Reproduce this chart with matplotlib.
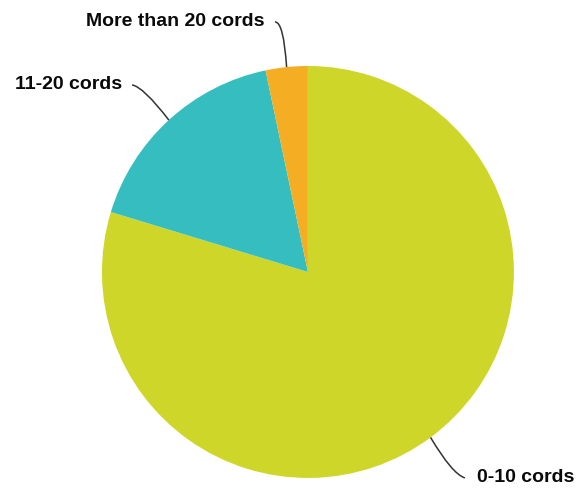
import matplotlib.pyplot as plt
import numpy as np
from matplotlib.path import Path
from matplotlib.patches import PathPatch

# Share of items by number of cords
labels = ["0-10 cords", "11-20 cords", "More than 20 cords"]
values = [79.7, 17.0, 3.3]
colors = ["#CFD62A", "#35BDBF", "#F5AE23"]

fig = plt.figure(figsize=(5.79, 4.91), dpi=100)
ax = fig.add_axes([0, 0, 1, 1])

wedges, _ = ax.pie(values, colors=colors, startangle=90, counterclock=False,
                   radius=1.0, wedgeprops=dict(linewidth=0))

# pie() resets the view, so fix the limits afterwards
ax.set_xlim(-1.495, 1.316)
ax.set_ylim(-1.063, 1.320)
ax.set_aspect("equal")
ax.axis("off")

# Label connectors: (control point, end point, text alignment)
label_pos = {
    "0-10 cords": ((0.70, -0.98), (0.762, -1.0), "left"),
    "11-20 cords": ((-0.80, 0.90), (-0.854, 0.908), "right"),
    "More than 20 cords": ((-0.118, 1.215), (-0.16, 1.214), "right"),
}

for w, lab in zip(wedges, labels):
    mid = np.deg2rad((w.theta1 + w.theta2) / 2)
    start = (np.cos(mid), np.sin(mid))
    ctrl, end, ha = label_pos[lab]
    path = Path([start, ctrl, end], [Path.MOVETO, Path.CURVE3, Path.CURVE3])
    ax.add_patch(PathPatch(path, fill=False, edgecolor="#333333", linewidth=1.1))
    tx = end[0] + (0.06 if ha == "left" else -0.05)
    ax.text(tx, end[1], lab, ha=ha, va="center", fontsize=14,
            fontweight="bold", family="Liberation Sans", color="#0a0a0a")

fig.savefig("out.png", dpi=100)
